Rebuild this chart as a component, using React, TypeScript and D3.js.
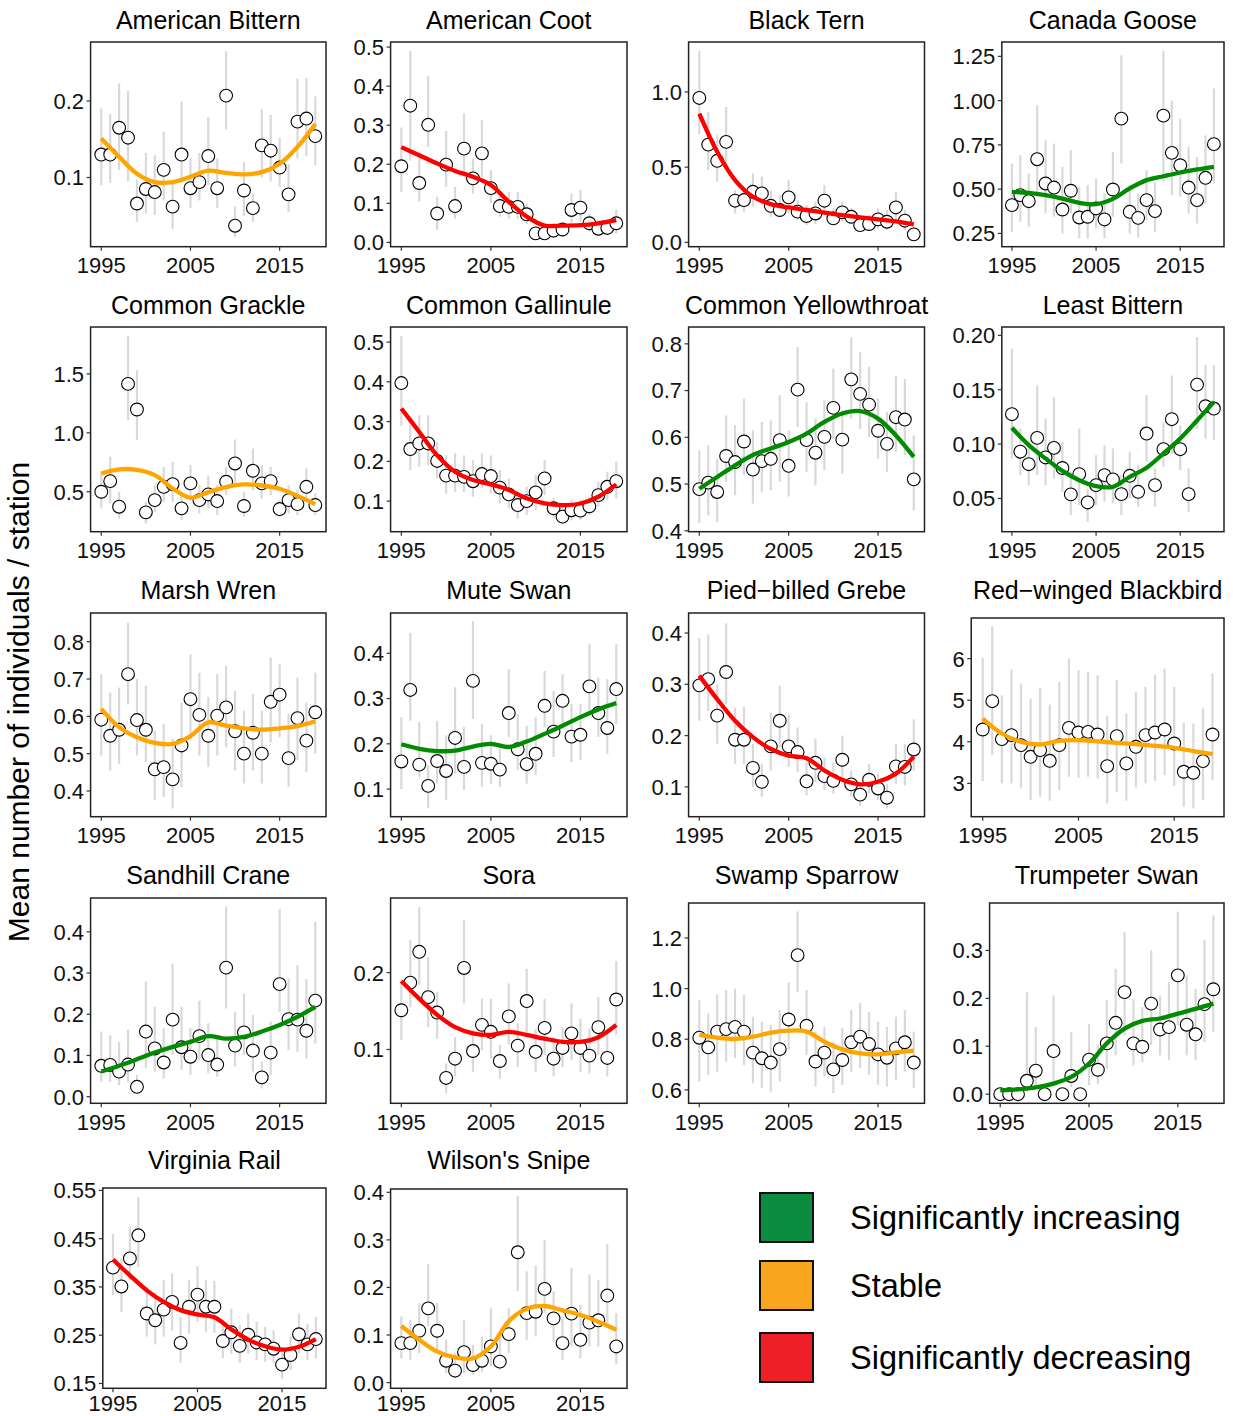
import React from "react";
import * as d3 from "d3";

const years = [1995, 1996, 1997, 1998, 1999, 2000, 2001, 2002, 2003, 2004, 2005, 2006, 2007, 2008, 2009, 2010, 2011, 2012, 2013, 2014, 2015, 2016, 2017, 2018, 2019];
const fitYears = [1995, 1997, 1999, 2001, 2003, 2005, 2007, 2009, 2011, 2013, 2015, 2017, 2019];
const xTicks = [1995, 2005, 2015];

const species = [
  "American Bittern", "American Coot", "Black Tern", "Canada Goose",
  "Common Grackle", "Common Gallinule", "Common Yellowthroat", "Least Bittern",
  "Marsh Wren", "Mute Swan", "Pied\u2212billed Grebe", "Red\u2212winged Blackbird",
  "Sandhill Crane", "Sora", "Swamp Sparrow", "Trumpeter Swan",
  "Virginia Rail", "Wilson's Snipe",
];

const trend = [
  "stable", "decreasing", "decreasing", "increasing",
  "stable", "decreasing", "increasing", "increasing",
  "stable", "increasing", "decreasing", "stable",
  "increasing", "decreasing", "stable", "increasing",
  "decreasing", "stable",
];

const tickLabels = [
  ["0.1", "0.2"],
  ["0.0", "0.1", "0.2", "0.3", "0.4", "0.5"],
  ["0.0", "0.5", "1.0"],
  ["0.25", "0.50", "0.75", "1.00", "1.25"],
  ["0.5", "1.0", "1.5"],
  ["0.1", "0.2", "0.3", "0.4", "0.5"],
  ["0.4", "0.5", "0.6", "0.7", "0.8"],
  ["0.05", "0.10", "0.15", "0.20"],
  ["0.4", "0.5", "0.6", "0.7", "0.8"],
  ["0.1", "0.2", "0.3", "0.4"],
  ["0.1", "0.2", "0.3", "0.4"],
  ["3", "4", "5", "6"],
  ["0.0", "0.1", "0.2", "0.3", "0.4"],
  ["0.1", "0.2"],
  ["0.6", "0.8", "1.0", "1.2"],
  ["0.0", "0.1", "0.2", "0.3"],
  ["0.15", "0.25", "0.35", "0.45", "0.55"],
  ["0.0", "0.1", "0.2", "0.3", "0.4"],
];

const yLimits = [
  [0.0096, 0.277], [-0.011, 0.513], [-0.029, 1.332], [0.175, 1.331],
  [0.161, 1.898], [0.023, 0.538], [0.398, 0.836], [0.0194, 0.2077],
  [0.331, 0.877], [0.039, 0.489], [0.042, 0.439], [2.2, 6.976],
  [-0.016, 0.482], [0.03, 0.297], [0.547, 1.338], [-0.019, 0.399],
  [0.14, 0.555], [-0.012, 0.407],
];

// mean number of individuals per station, one row per species
const means = [
  [0.130, 0.130, 0.165, 0.152, 0.066, 0.085, 0.081, 0.110, 0.062, 0.130, 0.086, 0.094, 0.128, 0.086, 0.207, 0.037, 0.083, 0.060, 0.142, 0.135, 0.113, 0.078, 0.173, 0.177, 0.154],
  [0.195, 0.350, 0.152, 0.301, 0.074, 0.199, 0.093, 0.240, 0.164, 0.228, 0.139, 0.093, 0.091, 0.091, 0.072, 0.023, 0.023, 0.030, 0.033, 0.083, 0.089, 0.049, 0.035, 0.037, 0.049],
  [0.960, 0.650, 0.542, 0.668, 0.277, 0.281, 0.336, 0.325, 0.243, 0.215, 0.299, 0.204, 0.175, 0.192, 0.277, 0.159, 0.199, 0.170, 0.115, 0.122, 0.153, 0.137, 0.232, 0.144, 0.053],
  [0.410, 0.466, 0.432, 0.669, 0.532, 0.509, 0.385, 0.491, 0.340, 0.344, 0.391, 0.329, 0.498, 0.898, 0.372, 0.338, 0.438, 0.376, 0.915, 0.705, 0.635, 0.509, 0.438, 0.564, 0.754],
  [0.500, 0.590, 0.373, 1.415, 1.198, 0.325, 0.429, 0.542, 0.565, 0.359, 0.571, 0.429, 0.477, 0.421, 0.585, 0.740, 0.379, 0.678, 0.571, 0.590, 0.353, 0.429, 0.395, 0.542, 0.387],
  [0.397, 0.231, 0.245, 0.245, 0.201, 0.164, 0.164, 0.161, 0.150, 0.168, 0.163, 0.134, 0.117, 0.090, 0.100, 0.122, 0.157, 0.082, 0.061, 0.077, 0.076, 0.087, 0.115, 0.136, 0.150],
  [0.489, 0.503, 0.483, 0.560, 0.547, 0.591, 0.531, 0.549, 0.554, 0.594, 0.539, 0.702, 0.594, 0.567, 0.601, 0.663, 0.595, 0.724, 0.693, 0.670, 0.614, 0.586, 0.643, 0.638, 0.510],
  [0.1275, 0.093, 0.0815, 0.1057, 0.0877, 0.0965, 0.078, 0.0537, 0.0724, 0.0463, 0.0622, 0.0714, 0.0675, 0.054, 0.0708, 0.0561, 0.1097, 0.0622, 0.0953, 0.1229, 0.0953, 0.054, 0.1547, 0.1348, 0.1327],
  [0.591, 0.548, 0.564, 0.713, 0.590, 0.564, 0.458, 0.464, 0.431, 0.522, 0.646, 0.604, 0.548, 0.602, 0.624, 0.560, 0.500, 0.556, 0.500, 0.639, 0.658, 0.488, 0.595, 0.535, 0.611],
  [0.161, 0.319, 0.154, 0.107, 0.162, 0.140, 0.213, 0.149, 0.339, 0.158, 0.156, 0.143, 0.268, 0.188, 0.155, 0.178, 0.284, 0.227, 0.295, 0.216, 0.220, 0.327, 0.268, 0.235, 0.321],
  [0.298, 0.310, 0.239, 0.324, 0.192, 0.192, 0.137, 0.110, 0.179, 0.229, 0.179, 0.168, 0.111, 0.147, 0.121, 0.112, 0.153, 0.105, 0.085, 0.114, 0.097, 0.079, 0.140, 0.139, 0.173],
  [4.296, 4.976, 4.064, 4.16, 3.92, 3.64, 3.80, 3.544, 3.92, 4.336, 4.224, 4.24, 4.176, 3.416, 4.136, 3.48, 3.88, 4.16, 4.224, 4.296, 3.96, 3.28, 3.256, 3.536, 4.176],
  [0.075, 0.077, 0.061, 0.078, 0.024, 0.158, 0.117, 0.083, 0.187, 0.120, 0.097, 0.147, 0.101, 0.078, 0.313, 0.124, 0.156, 0.112, 0.047, 0.107, 0.273, 0.188, 0.187, 0.160, 0.233],
  [0.151, 0.187, 0.227, 0.168, 0.148, 0.063, 0.088, 0.206, 0.098, 0.132, 0.123, 0.085, 0.143, 0.105, 0.163, 0.097, 0.128, 0.088, 0.102, 0.121, 0.102, 0.092, 0.129, 0.089, 0.165],
  [0.806, 0.768, 0.830, 0.840, 0.849, 0.830, 0.747, 0.725, 0.708, 0.761, 0.878, 1.132, 0.853, 0.712, 0.747, 0.681, 0.718, 0.788, 0.810, 0.781, 0.740, 0.727, 0.764, 0.788, 0.708],
  [0, 0, 0, 0.028, 0.049, 0, 0.090, 0, 0.038, 0, 0.072, 0.051, 0.106, 0.149, 0.213, 0.106, 0.099, 0.189, 0.135, 0.140, 0.248, 0.145, 0.125, 0.188, 0.219],
  [0.390, 0.351, 0.409, 0.457, 0.295, 0.281, 0.303, 0.319, 0.234, 0.309, 0.334, 0.309, 0.309, 0.238, 0.256, 0.228, 0.251, 0.235, 0.231, 0.222, 0.189, 0.209, 0.252, 0.231, 0.242],
  [0.083, 0.083, 0.109, 0.156, 0.109, 0.046, 0.025, 0.064, 0.037, 0.046, 0.076, 0.044, 0.102, 0.274, 0.146, 0.149, 0.197, 0.135, 0.083, 0.145, 0.090, 0.126, 0.131, 0.183, 0.076],
];

const lower = [
  [0.090, 0.093, 0.110, 0.095, 0.042, 0.053, 0.051, 0.070, 0.033, 0.095, 0.060, 0.070, 0.090, 0.060, 0.163, 0.022, 0.050, 0.042, 0.100, 0.095, 0.088, 0.055, 0.125, 0.128, 0.116],
  [0.129, 0.210, 0.104, 0.244, 0.032, 0.142, 0.061, 0.176, 0.125, 0.168, 0.100, 0.066, 0.061, 0.061, 0.047, 0.010, 0.010, 0.014, 0.016, 0.050, 0.053, 0.027, 0.019, 0.019, 0.023],
  [0.720, 0.480, 0.403, 0.480, 0.192, 0.204, 0.237, 0.248, 0.170, 0.170, 0.192, 0.148, 0.115, 0.122, 0.192, 0.115, 0.137, 0.126, 0.082, 0.082, 0.093, 0.082, 0.148, 0.082, 0.027],
  [0.259, 0.316, 0.288, 0.457, 0.363, 0.344, 0.250, 0.363, 0.222, 0.222, 0.278, 0.222, 0.344, 0.645, 0.250, 0.227, 0.325, 0.259, 0.541, 0.466, 0.457, 0.363, 0.306, 0.419, 0.532],
  [0.359, 0.401, 0.274, 1.107, 0.938, 0.232, 0.330, 0.415, 0.415, 0.260, 0.444, 0.316, 0.359, 0.302, 0.472, 0.556, 0.288, 0.514, 0.444, 0.472, 0.288, 0.316, 0.302, 0.415, 0.302],
  [0.290, 0.178, 0.186, 0.190, 0.157, 0.119, 0.123, 0.123, 0.111, 0.132, 0.119, 0.094, 0.082, 0.056, 0.065, 0.077, 0.115, 0.056, 0.041, 0.052, 0.052, 0.065, 0.086, 0.103, 0.107],
  [0.416, 0.433, 0.419, 0.505, 0.476, 0.519, 0.458, 0.483, 0.487, 0.505, 0.473, 0.622, 0.526, 0.497, 0.530, 0.597, 0.522, 0.640, 0.618, 0.600, 0.554, 0.526, 0.569, 0.562, 0.444],
  [0.0867, 0.0714, 0.0622, 0.0714, 0.0622, 0.068, 0.056, 0.0347, 0.0439, 0.0286, 0.0439, 0.047, 0.0454, 0.0347, 0.05, 0.0423, 0.0837, 0.0423, 0.079, 0.091, 0.076, 0.0378, 0.114, 0.105, 0.1036],
  [0.495, 0.455, 0.473, 0.633, 0.495, 0.477, 0.375, 0.384, 0.353, 0.410, 0.535, 0.495, 0.464, 0.495, 0.517, 0.455, 0.420, 0.455, 0.420, 0.530, 0.544, 0.411, 0.482, 0.451, 0.500],
  [0.100, 0.251, 0.127, 0.058, 0.112, 0.076, 0.134, 0.098, 0.255, 0.105, 0.112, 0.105, 0.215, 0.142, 0.112, 0.131, 0.237, 0.171, 0.237, 0.160, 0.164, 0.266, 0.215, 0.178, 0.244],
  [0.229, 0.248, 0.184, 0.261, 0.145, 0.145, 0.100, 0.081, 0.132, 0.177, 0.139, 0.129, 0.084, 0.110, 0.094, 0.087, 0.119, 0.081, 0.063, 0.087, 0.074, 0.058, 0.106, 0.103, 0.132],
  [3.056, 3.68, 3.0, 3.0, 2.88, 2.6, 2.68, 2.584, 2.84, 3.16, 3.136, 3.16, 3.12, 2.52, 2.8, 2.584, 2.904, 3.0, 3.064, 3.2, 2.944, 2.44, 2.4, 2.6, 3.08],
  [0.036, 0.036, 0.028, 0.036, 0.008, 0.069, 0.061, 0.044, 0.101, 0.065, 0.053, 0.089, 0.057, 0.048, 0.214, 0.073, 0.101, 0.061, 0.020, 0.053, 0.206, 0.113, 0.109, 0.093, 0.129],
  [0.112, 0.155, 0.184, 0.129, 0.114, 0.043, 0.065, 0.160, 0.071, 0.099, 0.088, 0.062, 0.106, 0.077, 0.123, 0.071, 0.093, 0.065, 0.077, 0.086, 0.071, 0.069, 0.093, 0.065, 0.119],
  [0.633, 0.659, 0.672, 0.712, 0.725, 0.698, 0.626, 0.607, 0.593, 0.633, 0.758, 0.987, 0.738, 0.613, 0.653, 0.587, 0.620, 0.672, 0.685, 0.659, 0.620, 0.613, 0.639, 0.672, 0.607],
  [0, 0, 0, 0.005, 0.012, 0, 0.026, 0, 0.015, 0, 0.019, 0.022, 0.053, 0.081, 0.123, 0.060, 0.067, 0.102, 0.081, 0.071, 0.144, 0.081, 0.071, 0.109, 0.130],
  [0.333, 0.298, 0.364, 0.391, 0.247, 0.231, 0.247, 0.260, 0.193, 0.253, 0.278, 0.257, 0.255, 0.202, 0.212, 0.193, 0.212, 0.198, 0.195, 0.193, 0.160, 0.178, 0.212, 0.198, 0.202],
  [0.051, 0.048, 0.062, 0.118, 0.069, 0.020, 0.013, 0.020, 0.016, 0.023, 0.034, 0.027, 0.062, 0.192, 0.090, 0.097, 0.146, 0.086, 0.048, 0.076, 0.051, 0.076, 0.076, 0.118, 0.039],
];

const upper = [
  [0.190, 0.183, 0.223, 0.213, 0.097, 0.132, 0.129, 0.160, 0.094, 0.199, 0.125, 0.132, 0.179, 0.125, 0.265, 0.062, 0.120, 0.079, 0.189, 0.182, 0.152, 0.118, 0.229, 0.230, 0.206],
  [0.294, 0.490, 0.227, 0.425, 0.117, 0.285, 0.142, 0.330, 0.215, 0.313, 0.185, 0.129, 0.129, 0.129, 0.100, 0.036, 0.036, 0.044, 0.049, 0.125, 0.134, 0.074, 0.057, 0.061, 0.084],
  [1.272, 0.867, 0.712, 0.900, 0.347, 0.370, 0.458, 0.436, 0.347, 0.314, 0.414, 0.281, 0.248, 0.270, 0.380, 0.226, 0.270, 0.226, 0.170, 0.181, 0.226, 0.215, 0.336, 0.215, 0.104],
  [0.645, 0.692, 0.588, 0.974, 0.776, 0.757, 0.626, 0.720, 0.513, 0.522, 0.560, 0.476, 0.710, 1.256, 0.522, 0.476, 0.607, 0.541, 1.280, 1.000, 0.898, 0.739, 0.682, 0.804, 1.068],
  [0.669, 0.797, 0.500, 1.822, 1.531, 0.415, 0.556, 0.712, 0.754, 0.472, 0.726, 0.556, 0.636, 0.556, 0.712, 0.944, 0.500, 0.867, 0.726, 0.712, 0.429, 0.556, 0.514, 0.698, 0.486],
  [0.515, 0.291, 0.316, 0.316, 0.249, 0.215, 0.220, 0.215, 0.203, 0.220, 0.215, 0.178, 0.157, 0.123, 0.136, 0.165, 0.203, 0.107, 0.086, 0.103, 0.103, 0.111, 0.149, 0.174, 0.199],
  [0.572, 0.583, 0.554, 0.647, 0.626, 0.683, 0.615, 0.633, 0.636, 0.690, 0.615, 0.793, 0.675, 0.640, 0.679, 0.747, 0.658, 0.814, 0.782, 0.750, 0.683, 0.654, 0.732, 0.725, 0.604],
  [0.1878, 0.1143, 0.102, 0.154, 0.1235, 0.143, 0.102, 0.0745, 0.1143, 0.0592, 0.0898, 0.099, 0.096, 0.0714, 0.093, 0.0806, 0.145, 0.0776, 0.12, 0.163, 0.117, 0.0776, 0.1985, 0.173, 0.1725],
  [0.713, 0.664, 0.677, 0.851, 0.700, 0.682, 0.562, 0.580, 0.540, 0.637, 0.766, 0.717, 0.652, 0.713, 0.735, 0.668, 0.615, 0.660, 0.615, 0.757, 0.740, 0.606, 0.704, 0.637, 0.717],
  [0.259, 0.445, 0.248, 0.153, 0.251, 0.219, 0.325, 0.237, 0.471, 0.244, 0.219, 0.200, 0.365, 0.266, 0.240, 0.259, 0.361, 0.317, 0.354, 0.288, 0.288, 0.420, 0.346, 0.343, 0.420],
  [0.390, 0.397, 0.300, 0.419, 0.255, 0.256, 0.184, 0.145, 0.245, 0.297, 0.242, 0.216, 0.152, 0.194, 0.158, 0.148, 0.200, 0.132, 0.110, 0.145, 0.126, 0.106, 0.184, 0.184, 0.232],
  [6.016, 6.776, 5.12, 5.736, 5.4, 5.04, 5.296, 4.896, 5.44, 6.0, 5.72, 5.68, 5.6, 4.616, 5.48, 4.68, 5.2, 5.32, 5.616, 5.76, 5.32, 4.456, 4.44, 4.8, 5.64],
  [0.158, 0.149, 0.133, 0.162, 0.053, 0.279, 0.218, 0.166, 0.323, 0.218, 0.166, 0.233, 0.178, 0.141, 0.461, 0.206, 0.250, 0.198, 0.085, 0.182, 0.455, 0.287, 0.319, 0.285, 0.424],
  [0.188, 0.242, 0.285, 0.220, 0.175, 0.082, 0.116, 0.268, 0.125, 0.166, 0.166, 0.106, 0.186, 0.134, 0.205, 0.127, 0.166, 0.116, 0.129, 0.160, 0.140, 0.127, 0.168, 0.121, 0.215],
  [0.954, 0.902, 0.977, 0.994, 1.000, 0.974, 0.889, 0.869, 0.856, 0.915, 1.024, 1.305, 0.994, 0.830, 0.849, 0.790, 0.843, 0.915, 0.944, 0.908, 0.869, 0.849, 0.889, 0.915, 0.830],
  [0, 0, 0, 0.213, 0.140, 0, 0.206, 0, 0.130, 0, 0.147, 0.102, 0.196, 0.262, 0.338, 0.199, 0.182, 0.300, 0.206, 0.234, 0.381, 0.248, 0.220, 0.322, 0.373],
  [0.460, 0.409, 0.476, 0.536, 0.350, 0.338, 0.364, 0.378, 0.288, 0.364, 0.393, 0.364, 0.362, 0.281, 0.305, 0.271, 0.295, 0.278, 0.267, 0.260, 0.226, 0.247, 0.295, 0.274, 0.288],
  [0.139, 0.132, 0.167, 0.249, 0.167, 0.090, 0.062, 0.132, 0.079, 0.097, 0.156, 0.097, 0.156, 0.392, 0.234, 0.246, 0.300, 0.192, 0.139, 0.241, 0.164, 0.227, 0.216, 0.291, 0.146],
];

// fitted trend line, read at fitYears
const fits = [
  [0.151, 0.127, 0.105, 0.094, 0.094, 0.101, 0.109, 0.106, 0.104, 0.107, 0.118, 0.140, 0.170],
  [0.244, 0.223, 0.202, 0.183, 0.168, 0.147, 0.104, 0.066, 0.043, 0.043, 0.044, 0.049, 0.057],
  [0.856, 0.602, 0.414, 0.303, 0.254, 0.232, 0.215, 0.197, 0.181, 0.166, 0.153, 0.139, 0.119],
  [0.485, 0.479, 0.466, 0.447, 0.423, 0.415, 0.445, 0.504, 0.551, 0.573, 0.594, 0.611, 0.626],
  [0.655, 0.690, 0.686, 0.641, 0.528, 0.449, 0.497, 0.540, 0.562, 0.553, 0.525, 0.465, 0.395],
  [0.333, 0.274, 0.215, 0.174, 0.153, 0.142, 0.128, 0.107, 0.094, 0.090, 0.094, 0.111, 0.142],
  [0.490, 0.515, 0.540, 0.562, 0.576, 0.590, 0.608, 0.633, 0.651, 0.656, 0.640, 0.604, 0.558],
  [0.115, 0.099, 0.0867, 0.0754, 0.0668, 0.0613, 0.0607, 0.0699, 0.0782, 0.0913, 0.1051, 0.1217, 0.1388],
  [0.620, 0.571, 0.544, 0.529, 0.526, 0.547, 0.584, 0.575, 0.568, 0.564, 0.568, 0.574, 0.587],
  [0.199, 0.189, 0.184, 0.185, 0.194, 0.200, 0.193, 0.205, 0.222, 0.240, 0.259, 0.276, 0.290],
  [0.317, 0.271, 0.229, 0.197, 0.174, 0.161, 0.156, 0.132, 0.114, 0.105, 0.110, 0.126, 0.159],
  [4.56, 4.2, 4.0, 3.936, 4.024, 4.04, 4.008, 3.976, 3.944, 3.904, 3.856, 3.776, 3.704],
  [0.061, 0.075, 0.091, 0.107, 0.121, 0.133, 0.147, 0.141, 0.145, 0.158, 0.174, 0.194, 0.218],
  [0.189, 0.166, 0.145, 0.129, 0.121, 0.119, 0.123, 0.119, 0.114, 0.110, 0.110, 0.116, 0.132],
  [0.817, 0.806, 0.801, 0.810, 0.826, 0.834, 0.830, 0.790, 0.760, 0.744, 0.740, 0.748, 0.755],
  [0.008, 0.010, 0.014, 0.022, 0.036, 0.064, 0.106, 0.137, 0.153, 0.158, 0.168, 0.178, 0.189],
  [0.407, 0.374, 0.343, 0.319, 0.302, 0.293, 0.287, 0.262, 0.241, 0.227, 0.220, 0.226, 0.242],
  [0.119, 0.090, 0.065, 0.053, 0.051, 0.076, 0.129, 0.155, 0.161, 0.152, 0.142, 0.128, 0.111],
];

const trendColor: Record<string, string> = {
  increasing: "#008B00",
  stable: "#FFA500",
  decreasing: "#FF0000",
};

const legendLabels = ["Significantly increasing", "Stable", "Significantly decreasing"];
const legendFills = ["#0b8c41", "#f9a51d", "#ee1f26"];

const FONT = "'Liberation Sans', Arial, Helvetica, sans-serif";
const W = 1233;
const H = 1416;

// grid layout
const colLeft = [53, 353, 651, 952];
const colRight = [326, 627, 924.5, 1224];
const rowTop = [0, 285, 570, 855, 1140];
const boxTopInset = [42, 42, 42, 42, 42, 42, 42, 42, 43, 43, 43, 48, 43, 43, 48, 48, 48, 49];
const boxBottomInset = [246.7, 246.7, 246.7, 248.3, 248.3];

let measureCtx: CanvasRenderingContext2D | null = null;
function textWidth(s: string, px: number) {
  if (!measureCtx) measureCtx = document.createElement("canvas").getContext("2d");
  if (measureCtx) {
    measureCtx.font = `${px}px ${FONT}`;
    return measureCtx.measureText(s).width;
  }
  return s.length * px * 0.52;
}

function Panel({ i }: { i: number }) {
  const r = Math.floor(i / 4);
  const c = i % 4;
  const labels = tickLabels[i];
  const labW = d3.max(labels, (l) => textWidth(l, 22)) || 0;
  const x0 = colLeft[c] + labW + 7;
  const x1 = colRight[c];
  const y0 = rowTop[r] + boxTopInset[i];
  const y1 = rowTop[r] + boxBottomInset[r];
  // keep the last row's year labels inside the picture
  const xLabY = Math.min(y1 + 26.5, H - 5);

  const x = d3.scaleLinear().domain([1995 - 1.2, 2019 + 1.2]).range([x0, x1]);
  const y = d3.scaleLinear().domain(yLimits[i]).range([y1, y0]);

  const line = d3
    .line<number>()
    .x((_, k) => x(fitYears[k]))
    .y((v) => y(v))
    .curve(d3.curveCatmullRom.alpha(0.5));

  return (
    <g>
      <text x={(x0 + x1) / 2} y={rowTop[r] + 29} textAnchor="middle" fontSize={25} fill="#000">
        {species[i]}
      </text>
      {years.map((yr, k) => (
        <line key={"e" + k} x1={x(yr)} x2={x(yr)} y1={y(lower[i][k])} y2={y(upper[i][k])}
          stroke="#d9d9d9" strokeWidth={2.2} />
      ))}
      {years.map((yr, k) => (
        <circle key={"p" + k} cx={x(yr)} cy={y(means[i][k])} r={6.4}
          fill="#fff" stroke="#000" strokeWidth={1.1} />
      ))}
      <path d={line(fits[i]) || ""} fill="none" stroke={trendColor[trend[i]]} strokeWidth={4.3} />
      <rect x={x0} y={y0} width={x1 - x0} height={y1 - y0} fill="none" stroke="#222" strokeWidth={1.5} />
      {labels.map((l) => {
        const v = +l;
        return (
          <g key={"y" + l}>
            <line x1={x0 - 4} x2={x0} y1={y(v)} y2={y(v)} stroke="#333" strokeWidth={1.2} />
            <text x={x0 - 6.5} y={y(v)} dy="0.36em" textAnchor="end" fontSize={22} fill="#111">{l}</text>
          </g>
        );
      })}
      {xTicks.map((t) => (
        <g key={"x" + t}>
          <line x1={x(t)} x2={x(t)} y1={y1} y2={y1 + 4} stroke="#333" strokeWidth={1.2} />
          <text x={x(t)} y={xLabY} textAnchor="middle" fontSize={22} fill="#111">{t}</text>
        </g>
      ))}
    </g>
  );
}

export default function App() {
  const legendY = [1193, 1261, 1333];
  return (
    <svg width={W} height={H} style={{ position: "absolute", left: 0, top: 0, background: "#fff" }}
      fontFamily={FONT}>
      <rect width={W} height={H} fill="#fff" />
      <text transform="translate(29,702) rotate(-90)" textAnchor="middle" fontSize={30} fill="#000">
        Mean number of individuals / station
      </text>
      {species.map((_, i) => (
        <Panel key={i} i={i} />
      ))}
      {legendLabels.map((l, k) => (
        <g key={l}>
          <rect x={760} y={legendY[k]} width={53} height={49} fill={legendFills[k]} stroke="#111" strokeWidth={2} />
          <text x={850} y={legendY[k] + 24.5} dy="0.36em" fontSize={32.5} fill="#000">{l}</text>
        </g>
      ))}
    </svg>
  );
}
